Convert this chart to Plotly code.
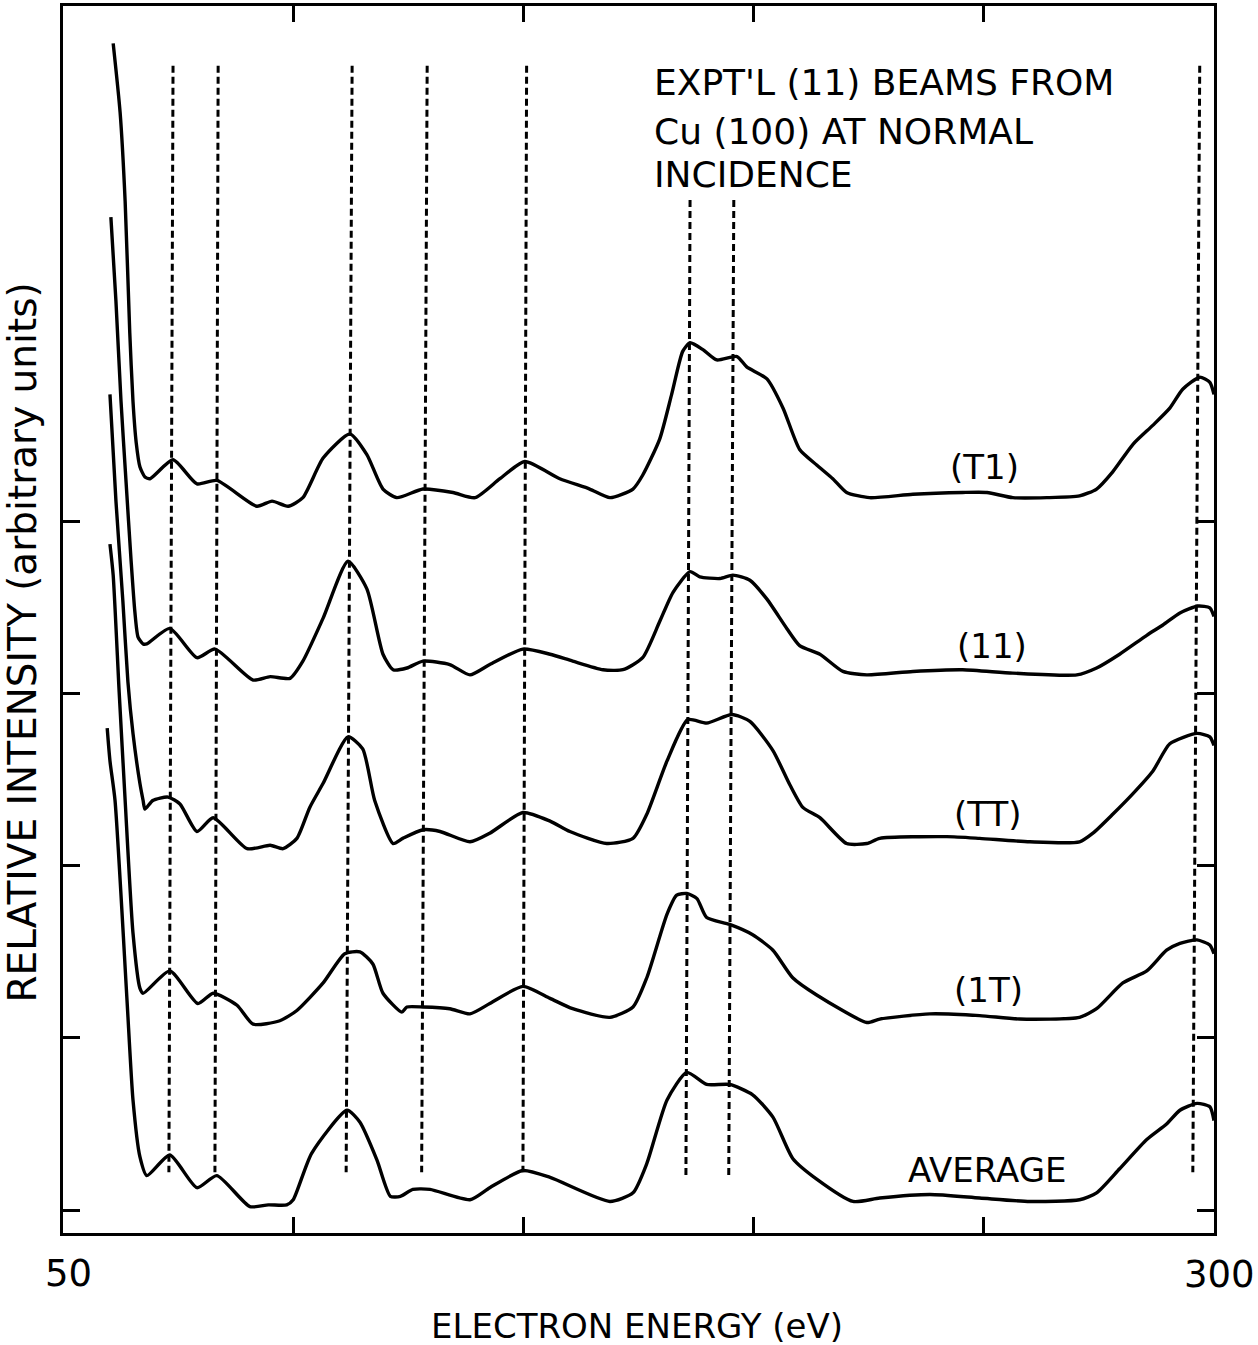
import plotly.graph_objects as go

# ---- data (energy in eV, intensity in axis units) ----
t1_ev = [60.9, 62.4, 63.5, 64.5, 65.2, 65.9, 66.7, 67.8, 68.9, 73.9, 79.1, 83.4, 92.1, 95.4, 98.9,
         102.1, 106.5, 112.3, 116.0, 119.5, 122.5, 128.2, 134.7, 139.5, 144.9, 150.3, 157.9, 164.4,
         168.8, 173.8, 175.9, 179.6, 182.2, 184.6, 186.2, 189.0, 192.0, 196.4, 198.5, 202.9, 206.4,
         210.0, 213.7, 217.2, 220.2, 225.2, 234.6, 245.4, 250.7, 256.3, 263.7, 270.8, 274.5, 278.0,
         282.4, 286.7, 290.4, 293.2, 296.9, 299.1, 300.0]
t1_int = [6.78, 6.38, 5.86, 5.10, 4.70, 4.46, 4.32, 4.26, 4.25, 4.36, 4.22, 4.24, 4.09, 4.12, 4.09,
          4.14, 4.37, 4.51, 4.39, 4.19, 4.14, 4.19, 4.17, 4.14, 4.25, 4.35, 4.25, 4.19,
          4.14, 4.19, 4.27, 4.48, 4.74, 4.99, 5.04, 5.00, 4.94, 4.96, 4.90, 4.83, 4.66,
          4.42, 4.33, 4.25, 4.17, 4.14, 4.16, 4.17, 4.17, 4.14, 4.14, 4.15, 4.19, 4.29,
          4.45, 4.56, 4.66, 4.77, 4.84, 4.81, 4.74]

b11_ev = [60.4, 61.5, 62.6, 63.7, 64.8, 65.6, 66.3, 67.4, 68.2, 73.2, 79.1, 83.0, 91.3, 95.0, 99.3,
          102.1, 106.5, 111.9, 116.0, 119.5, 121.7, 124.7, 128.2, 134.0, 138.4, 142.7, 149.9, 155.8,
          160.7, 167.3, 171.6, 175.9, 179.6, 182.5, 186.2, 188.3, 192.7, 195.5, 199.2, 202.9, 207.2,
          210.0, 214.4, 219.4, 224.6, 234.6, 245.4, 256.3, 270.2, 274.5, 279.5, 285.4, 288.9, 292.6,
          296.5, 299.1, 300.0]
b11_int = [5.77, 5.28, 4.70, 4.23, 3.77, 3.48, 3.33, 3.29, 3.29, 3.38, 3.21, 3.26, 3.08, 3.10, 3.09,
           3.19, 3.44, 3.77, 3.61, 3.23, 3.14, 3.15, 3.19, 3.17, 3.11, 3.17, 3.26, 3.23,
           3.19, 3.14, 3.14, 3.21, 3.42, 3.59, 3.71, 3.68, 3.67, 3.69, 3.66, 3.55, 3.38,
           3.28, 3.23, 3.13, 3.11, 3.13, 3.14, 3.12, 3.11, 3.15, 3.23, 3.34, 3.40, 3.47,
           3.51, 3.50, 3.45]

btt_ev = [60.2, 61.5, 63.0, 64.1, 65.2, 66.7, 67.4, 67.8, 69.5, 72.8, 75.4, 79.1, 82.6, 90.0, 95.0,
          97.8, 100.8, 103.6, 106.5, 111.9, 115.1, 117.7, 121.7, 123.8, 128.2, 131.9, 138.4, 142.7,
          149.9, 155.8, 160.1, 168.1, 173.8, 176.8, 181.2, 185.7, 189.8, 195.3, 199.2, 204.2, 207.9,
          210.7, 214.4, 220.2, 224.6, 227.4, 242.0, 249.1, 260.0, 270.8, 273.7, 278.0, 282.4, 286.7,
          290.4, 296.3, 299.1, 300.0]
btt_int = [4.74, 4.12, 3.54, 3.07, 2.77, 2.48, 2.38, 2.33, 2.38, 2.40, 2.36, 2.20, 2.28, 2.10, 2.12,
           2.10, 2.16, 2.34, 2.48, 2.75, 2.68, 2.38, 2.13, 2.16, 2.21, 2.20, 2.14, 2.19,
           2.31, 2.26, 2.20, 2.13, 2.16, 2.30, 2.61, 2.85, 2.83, 2.88, 2.84, 2.67, 2.47,
           2.34, 2.28, 2.13, 2.13, 2.16, 2.17, 2.16, 2.14, 2.14, 2.19, 2.30, 2.42, 2.55,
           2.71, 2.77, 2.75, 2.70]

b1t_ev = [60.2, 60.9, 62.2, 63.5, 65.2, 66.7, 67.4, 73.2, 79.3, 82.6, 87.8, 91.3, 97.1, 100.8,
          106.5, 111.2, 114.5, 117.3, 119.5, 123.6, 124.7, 128.2, 134.0, 138.4, 142.7, 149.9, 155.8,
          160.7, 168.8, 173.8, 176.8, 181.2, 183.3, 185.5, 187.7, 189.8, 194.8, 199.8, 204.2, 208.5,
          213.7, 224.6, 227.4, 238.3, 249.1, 257.8, 270.8, 274.5, 280.2, 285.4, 289.7, 292.6, 296.3,
          299.1, 300.0]
b1t_int = [3.87, 3.69, 3.01, 2.38, 1.61, 1.29, 1.26, 1.39, 1.20, 1.26, 1.19, 1.08, 1.10, 1.16,
           1.32, 1.49, 1.50, 1.43, 1.26, 1.15, 1.18, 1.18, 1.17, 1.14, 1.20, 1.30, 1.23,
           1.17, 1.12, 1.18, 1.35, 1.72, 1.83, 1.84, 1.81, 1.70, 1.66, 1.60, 1.51, 1.35,
           1.25, 1.09, 1.11, 1.14, 1.13, 1.11, 1.12, 1.17, 1.32, 1.39, 1.51, 1.55, 1.57,
           1.54, 1.49]

avg_ev = [59.6, 60.2, 61.3, 63.9, 65.2, 66.7, 68.2, 73.2, 79.1, 83.4, 90.6, 94.6, 98.6, 100.0,
          104.0, 111.7, 114.5, 118.2, 121.1, 123.3, 126.0, 129.7, 138.4, 142.7, 149.9, 155.8,
          168.8, 173.8, 176.8, 181.2, 185.5, 189.8, 194.8, 199.8, 204.2, 208.5, 213.7, 221.6,
          227.4, 238.3, 249.1, 260.0, 270.8, 274.5, 279.5, 285.4, 289.7, 292.6, 296.3, 299.1, 300.0]
avg_int = [2.80, 2.61, 2.38, 1.22, 0.64, 0.31, 0.20, 0.32, 0.13, 0.20, 0.02, 0.03, 0.03, 0.06,
           0.33, 0.58, 0.51, 0.29, 0.08, 0.08, 0.12, 0.12, 0.06, 0.13, 0.23, 0.19,
           0.05, 0.10, 0.27, 0.64, 0.80, 0.73, 0.73, 0.67, 0.54, 0.30, 0.18, 0.05,
           0.07, 0.09, 0.07, 0.05, 0.06, 0.10, 0.24, 0.41, 0.50, 0.58, 0.62, 0.60, 0.52]

# dashed reference lines (slightly tilted in the original drawing)
dash_top_ev = [73.9, 83.7, 112.8, 129.1, 150.7, 186.2, 195.7, 296.9]
dash_bot_ev = [73.0, 83.0, 111.5, 127.9, 149.9, 185.3, 194.6, 295.4]
dash_top_int = [6.65, 6.65, 6.65, 6.65, 6.65, 5.87, 5.87, 6.65]
dash_bot_int = [0.22, 0.22, 0.22, 0.22, 0.22, 0.20, 0.20, 0.22]

beam_labels = ["(T1)", "(11)", "(TT)", "(1T)", "AVERAGE"]
label_ev = [250.2, 251.7, 250.9, 251.1, 250.7]
label_int = [4.32, 3.28, 2.30, 1.28, 0.23]

x_tick_vals = [100, 150, 200, 250]
y_tick_vals = [0, 1, 2, 3, 4]
x_end_labels = ["50", "300"]
title_lines = ["EXPT'L (11) BEAMS FROM", "Cu (100) AT NORMAL", "INCIDENCE"]

FONT = "DejaVu Sans"

fig = go.Figure()

for ev0, ev1, i0, i1 in zip(dash_top_ev, dash_bot_ev, dash_top_int, dash_bot_int):
    fig.add_trace(go.Scatter(x=[ev0, ev1], y=[i0, i1], mode="lines",
                             line=dict(color="black", width=3, dash="7px,4px"),
                             hoverinfo="skip", showlegend=False))

for xs, ys in [(t1_ev, t1_int), (b11_ev, b11_int), (btt_ev, btt_int),
               (b1t_ev, b1t_int), (avg_ev, avg_int)]:
    fig.add_trace(go.Scatter(x=xs, y=ys, mode="lines",
                             line=dict(color="black", width=3.4, shape="spline", smoothing=0.6),
                             showlegend=False))

annotations = []
for txt, xe, yi in zip(beam_labels, label_ev, label_int):
    annotations.append(dict(x=xe, y=yi, xref="x", yref="y", text=txt, showarrow=False,
                            font=dict(family=FONT, size=34, color="black"),
                            xanchor="center", yanchor="middle"))

for txt, yi in zip(title_lines, [6.55, 6.27, 6.02]):
    annotations.append(dict(x=177.9, y=yi, xref="x", yref="y", text=txt, showarrow=False,
                            font=dict(family=FONT, size=36, color="black"),
                            xanchor="left", yanchor="middle"))

# labels outside the plotting area (paper coordinates)
annotations.append(dict(x=0.005, y=-0.033, xref="paper", yref="paper", text=x_end_labels[0],
                        showarrow=False, font=dict(family=FONT, size=37, color="black"),
                        xanchor="center", yanchor="middle"))
annotations.append(dict(x=1.005, y=-0.034, xref="paper", yref="paper", text=x_end_labels[1],
                        showarrow=False, font=dict(family=FONT, size=37, color="black"),
                        xanchor="center", yanchor="middle"))
annotations.append(dict(x=0.499, y=-0.076, xref="paper", yref="paper", text="ELECTRON ENERGY (eV)",
                        showarrow=False, font=dict(family=FONT, size=34, color="black"),
                        xanchor="center", yanchor="middle"))
annotations.append(dict(x=-0.035, y=0.481, xref="paper", yref="paper",
                        text="RELATIVE INTENSITY (arbitrary units)", textangle=-90,
                        showarrow=False, font=dict(family=FONT, size=39, color="black"),
                        xanchor="center", yanchor="middle"))

fig.update_layout(
    width=1258, height=1345,
    margin=dict(l=63, r=44, t=3, b=112),
    paper_bgcolor="white", plot_bgcolor="white",
    annotations=annotations,
    showlegend=False,
)
fig.update_xaxes(range=[50, 300], tickvals=x_tick_vals, showticklabels=False,
                 ticks="inside", ticklen=16, tickwidth=3, tickcolor="black",
                 showline=True, linewidth=3, linecolor="black", mirror="ticks",
                 showgrid=False, zeroline=False)
fig.update_yaxes(range=[-0.1333, 6.997], tickvals=y_tick_vals, showticklabels=False,
                 ticks="inside", ticklen=17, tickwidth=3, tickcolor="black",
                 showline=True, linewidth=3, linecolor="black", mirror="ticks",
                 showgrid=False, zeroline=False)

fig.write_html("out.html")
